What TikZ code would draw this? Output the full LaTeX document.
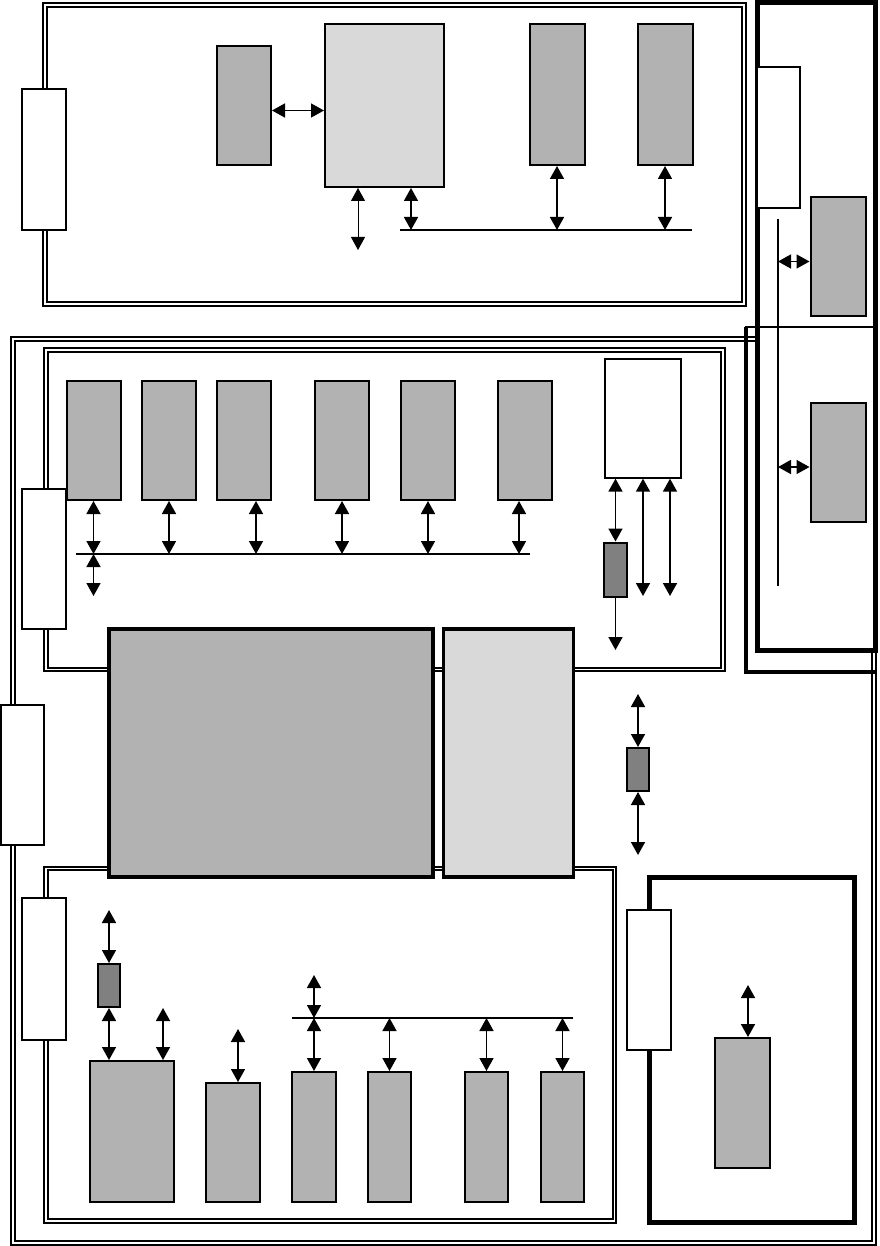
\documentclass[tikz,border=0pt]{standalone}
\usetikzlibrary{arrows.meta,positioning}
\definecolor{boxgray}{HTML}{B2B2B2}
\definecolor{palegray}{HTML}{D9D9D9}
\definecolor{deepgray}{HTML}{808080}
\newcommand{\tiplength}{13pt}
\newcommand{\tipwidth}{14pt}
\newcommand{\boxline}{2pt}
\tikzset{
  blockbase/.style={draw, line width=\boxline, inner sep=0pt},
  gbox/.style={blockbase, fill=boxgray},
  lbox/.style={blockbase, fill=palegray},
  dbox/.style={blockbase, fill=deepgray},
  wbox/.style={draw, fill=white, line width=1.3pt, inner sep=0pt},
  heavyline/.style={line width=3.5pt},
  dblframe/.style={draw, double, line width=2pt, double distance=1.8pt},
  thickframe/.style={draw, line width=5pt},
  biarrow/.style={{Triangle[length=\tiplength,width=\tipwidth]}-{Triangle[length=\tiplength,width=\tipwidth]}, line width=1.6pt},
  uniarrow/.style={-{Triangle[length=\tiplength,width=\tipwidth]}, line width=1.6pt},
  busline/.style={line width=1.6pt},
}
\begin{document}
\begin{tikzpicture}[x=1pt, y=-1pt]
\useasboundingbox (0,0) rectangle (879,1246);
%frames
\draw[dblframe] (13,339) rectangle (874,1243);
\draw[dblframe] (45,4.7) rectangle (744,304);
\draw[dblframe] (46,350) rectangle (723,669.5);
\draw[dblframe] (46,868.5) rectangle (614.5,1221);
\draw[thickframe, fill=white] (757,3) rectangle (875.5,650);
\draw[line width=2pt] (746,327) rectangle (876,672);
\draw[line width=3.5pt] (746,327) -- (746,672) -- (876,672);
\draw[thickframe] (649,877.5) rectangle (854,1222.5);
%top panel
\node[wbox, minimum width=44pt, minimum height=141pt] (tconn) at (44,159.5) {};
\node[gbox, minimum width=54pt, minimum height=119pt] (tg1) at (244,105.5) {};
\node[lbox, minimum width=119pt, minimum height=163pt] (tlg) at (384.5,105.5) {};
\node[gbox, minimum width=55pt, minimum height=141pt] (tg2) at (557,94.5) {};
\node[gbox, minimum width=55pt, minimum height=141pt] (tg3) at (665,94.5) {};
\coordinate (tbusw) at (400,230);
\coordinate (tbuse) at (692,230);
\coordinate (tout) at (358,250);
\draw[busline] (tbusw) -- (tbuse);
\draw[biarrow] ([yshift=-5pt]tg1.east) -- ([yshift=-5pt]tg1.east -| tlg.west);
\draw[biarrow, line width=1pt] (tlg.south -| tout) -- (tout);
\draw[biarrow] ([xshift=26.5pt]tlg.south) -- ([xshift=26.5pt]tlg.south |- tbusw);
\draw[biarrow] (tg2.south) -- (tg2.south |- tbusw);
\draw[biarrow] (tg3.south) -- (tg3.south |- tbusw);
%right panel
\node[wbox, minimum width=43pt, minimum height=141pt] (rconn) at (778.5,137.5) {};
\node[gbox, minimum width=55pt, minimum height=119pt] (rg1) at (838,256.5) {};
\node[gbox, minimum width=55pt, minimum height=119pt] (rg2) at (838,462) {};
\coordinate (rbust) at (778,219);
\coordinate (rbusb) at (778,586);
\draw[busline] (rbust) -- (rbusb);
\draw[biarrow] ([yshift=-5pt]rg1.west -| rbust) -- ([yshift=-5pt]rg1.west);
\draw[biarrow] ([yshift=-5pt]rg2.west -| rbust) -- ([yshift=-5pt]rg2.west);
%middle panel
\node[wbox, minimum width=44pt, minimum height=140pt] (mconn) at (44,559) {};
\node[gbox, minimum width=54pt, minimum height=119pt] (m1) at (93.5,440.5) {};
\node[gbox, minimum width=54pt, minimum height=119pt] (m2) at (169,440.5) {};
\node[gbox, minimum width=54pt, minimum height=119pt] (m3) at (244,440.5) {};
\node[gbox, minimum width=54pt, minimum height=119pt] (m4) at (342,440.5) {};
\node[gbox, minimum width=54pt, minimum height=119pt] (m5) at (428,440.5) {};
\node[gbox, minimum width=54pt, minimum height=119pt] (m6) at (525,440.5) {};
\coordinate (mbusw) at (76,554);
\coordinate (mbuse) at (530,554);
\coordinate (mout) at (93.5,596);
\draw[busline] (mbusw) -- (mbuse);
\draw[biarrow] (m1.south) -- (m1.south |- mbusw);
\draw[biarrow] (m2.south) -- (m2.south |- mbusw);
\draw[biarrow] ([xshift=12pt]m3.south) -- ([xshift=12pt]m3.south |- mbusw);
\draw[biarrow] (m4.south) -- (m4.south |- mbusw);
\draw[biarrow] (m5.south) -- (m5.south |- mbusw);
\draw[biarrow] ([xshift=-6pt]m6.south) -- ([xshift=-6pt]m6.south |- mbusw);
\draw[biarrow] (mout |- mbusw) -- (mout);
\node[wbox, minimum width=76pt, minimum height=119pt] (mw) at (643,418.5) {};
\node[dbox, minimum width=23pt, minimum height=54.5pt] (md) at (615.5,569.75) {};
\coordinate (mdout) at (615.5,650);
\coordinate (mwa) at (643,596);
\coordinate (mwb) at (670,596);
\draw[biarrow] (mw.south -| md.north) -- (md.north);
\draw[uniarrow] (md.south) -- (mdout);
\draw[biarrow] (mw.south -| mwa) -- (mwa);
\draw[biarrow] (mw.south -| mwb) -- (mwb);
%middle blocks
\node[gbox, heavyline, minimum width=324pt, minimum height=248pt] (core) at (271,753) {};
\node[lbox, heavyline, minimum width=130pt, minimum height=248pt] (side) at (508.5,753) {};
\node[wbox, minimum width=43pt, minimum height=140pt] (oconn) at (22.5,775) {};
\node[dbox, minimum width=22pt, minimum height=43pt] (cd) at (638,769.5) {};
\coordinate (cdin) at (638,694);
\coordinate (cdout) at (638,855);
\draw[biarrow] (cdin) -- (cd.north);
\draw[biarrow] (cd.south) -- (cdout);
%bottom panel
\node[wbox, minimum width=44pt, minimum height=142pt] (bconn) at (44,969) {};
\node[dbox, minimum width=22pt, minimum height=43pt] (bd) at (109,985.5) {};
\node[gbox, minimum width=84pt, minimum height=141pt] (bA) at (132,1131.5) {};
\node[gbox, minimum width=54pt, minimum height=119pt] (bB) at (233,1142.5) {};
\node[gbox, minimum width=44pt, minimum height=130pt] (bC) at (314,1137) {};
\node[gbox, minimum width=43pt, minimum height=130pt] (bD) at (389.5,1137) {};
\node[gbox, minimum width=43.5pt, minimum height=130pt] (bE) at (486.5,1137) {};
\node[gbox, minimum width=43pt, minimum height=130pt] (bF) at (562.5,1137) {};
\coordinate (bdin) at (109,910);
\coordinate (bAin) at (163,1008);
\coordinate (bBin) at (238,1029);
\coordinate (bbusw) at (292,1018);
\coordinate (bbuse) at (573,1018);
\coordinate (bbusin) at (314,975);
\draw[biarrow] (bdin) -- (bd.north);
\draw[biarrow] (bd.south) -- (bd.south |- bA.north);
\draw[biarrow] (bAin) -- (bAin |- bA.north);
\draw[biarrow] (bBin) -- (bBin |- bB.north);
\draw[busline] (bbusw) -- (bbuse);
\draw[biarrow] (bbusin) -- (bbusin |- bbusw);
\draw[biarrow] (bC.north |- bbusw) -- (bC.north);
\draw[biarrow] (bD.north |- bbusw) -- (bD.north);
\draw[biarrow] (bE.north |- bbusw) -- (bE.north);
\draw[biarrow] (bF.north |- bbusw) -- (bF.north);
%bottom right
\node[wbox, minimum width=44pt, minimum height=140pt] (brconn) at (649,980) {};
\node[gbox, minimum width=55pt, minimum height=130pt] (brg) at (742.75,1103) {};
\coordinate (brin) at (748,985);
\draw[biarrow] (brin) -- (brin |- brg.north);
\end{tikzpicture}
\end{document}
